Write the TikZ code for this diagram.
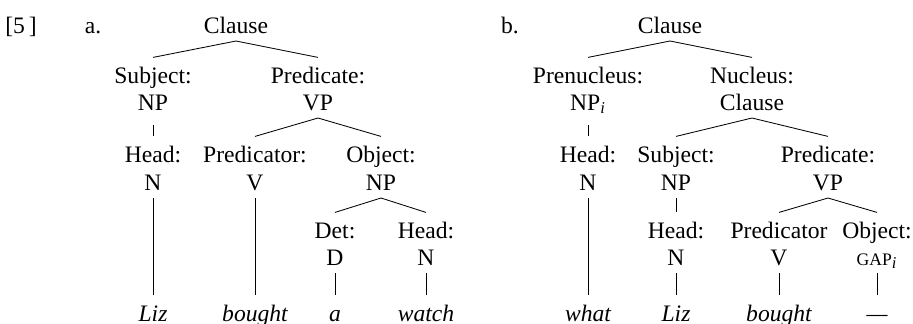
\documentclass[tikz,border=0pt]{standalone}
\usepackage{fontspec}
\setmainfont{Liberation Serif}
\begin{document}
\begin{tikzpicture}[x=0.5pt,y=-0.5pt,
  lbl/.style={inner sep=0pt,anchor=base,text height=12.6pt,text depth=3.8pt,font=\fontsize{11.8}{13}\selectfont},
  leaf/.style={lbl,font=\fontsize{11.8}{13}\selectfont\itshape},
  edge/.style={line width=0.42pt},
  uni/.style={edge,shorten <=3.5pt}]
\useasboundingbox (0,0) rectangle (913,323);
\newcommand{\subi}{\textsubscript{\textit{i}}}
% labels
\node[lbl] (num) at (21,33) {[5\,]};
\node[lbl] (la) at (93,33) {a.};
\node[lbl] (lb) at (510,33) {b.};
% ---- tree a
\node[lbl] (aC) at (236,33) {Clause};
\node[lbl] (aSubjF) at (153,83) {Subject:};
\node[lbl] (aSubjC) at (153,110) {NP};
\node[lbl] (aPredF) at (318,83) {Predicate:};
\node[lbl] (aPredC) at (318,110) {VP};
\node[lbl] (aHeadF) at (153,162) {Head:};
\node[lbl] (aHeadC) at (153,190) {N};
\node[lbl] (aPtorF) at (255,162) {Predicator:};
\node[lbl] (aPtorC) at (255,190) {V};
\node[lbl] (aObjF) at (381,162) {Object:};
\node[lbl] (aObjC) at (381,190) {NP};
\node[lbl] (aDetF) at (335,238) {Det:};
\node[lbl] (aDetC) at (335,265) {D};
\node[lbl] (aH2F) at (426,238) {Head:};
\node[lbl] (aH2C) at (426,265) {N};
\node[leaf] (aLiz) at (153,321) {Liz};
\node[leaf] (aBought) at (255,321) {bought};
\node[leaf] (aA) at (335,321) {a};
\node[leaf] (aWatch) at (426,321) {watch};
\draw[edge] (aC.south) -- (aSubjF.north);
\draw[edge] (aC.south) -- (aPredF.north);
\draw[uni] (aSubjC.south) -- (aHeadF.north);
\draw[edge] (aPredC.south) -- (aPtorF.north);
\draw[edge] (aPredC.south) -- (aObjF.north);
\draw[edge] (aHeadC.south) -- (aLiz.north);
\draw[edge] (aPtorC.south) -- (aBought.north);
\draw[edge] (aObjC.south) -- (aDetF.north);
\draw[edge] (aObjC.south) -- (aH2F.north);
\draw[edge] (aDetC.south) -- (aA.north);
\draw[edge] (aH2C.south) -- (aWatch.north);
% ---- tree b
\node[lbl] (bC) at (670,33) {Clause};
\node[lbl] (bPreF) at (588,83) {Prenucleus:};
\node[lbl] (bPreC) at (588,110) {NP\subi};
\node[lbl] (bNucF) at (752,83) {Nucleus:};
\node[lbl] (bNucC) at (752,110) {Clause};
\node[lbl] (bHeadF) at (588,162) {Head:};
\node[lbl] (bHeadC) at (588,190) {N};
\node[lbl] (bSubjF) at (676,162) {Subject:};
\node[lbl] (bSubjC) at (676,190) {NP};
\node[lbl] (bPredF) at (828,162) {Predicate:};
\node[lbl] (bPredC) at (828,190) {VP};
\node[lbl] (bH2F) at (676,238) {Head:};
\node[lbl] (bH2C) at (676,265) {N};
\node[lbl] (bPtorF) at (779,238) {Predicator};
\node[lbl] (bPtorC) at (779,265) {V};
\node[lbl] (bObjF) at (877,238) {Object:};
\node[lbl] (bObjC) at (877,265) {{\fontsize{8.8}{10}\selectfont GAP}\subi};
\node[leaf] (bWhat) at (588,321) {what};
\node[leaf] (bLiz) at (676,321) {Liz};
\node[leaf] (bBought) at (779,321) {bought};
\node[leaf] (bGap) at (877,321) {---};
\draw[edge] (bC.south) -- (bPreF.north);
\draw[edge] (bC.south) -- (bNucF.north);
\draw[uni] (bPreC.south) -- (bHeadF.north);
\draw[edge] (bNucC.south) -- (bSubjF.north);
\draw[edge] (bNucC.south) -- (bPredF.north);
\draw[edge] (bHeadC.south) -- (bWhat.north);
\draw[edge] (bSubjC.south) -- (bH2F.north);
\draw[edge] (bPredC.south) -- (bPtorF.north);
\draw[edge] (bPredC.south) -- (bObjF.north);
\draw[edge] (bH2C.south) -- (bLiz.north);
\draw[edge] (bPtorC.south) -- (bBought.north);
\draw[edge] (bObjC.south) -- (bGap.north);
\end{tikzpicture}
\end{document}
